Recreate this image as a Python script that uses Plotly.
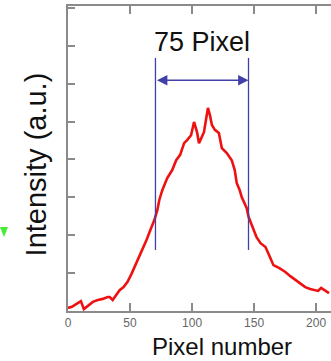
import plotly.graph_objects as go

# Profile data (pixel number vs intensity, a.u.)
pixel = [0, 3.2, 5.6, 8, 10.4, 12.8, 16, 20, 24, 28, 32, 33.6, 36, 39.2, 41.6, 44.8, 48,
         51.2, 55.2, 59.2, 63.2, 66.4, 69.6, 72, 73.6, 76, 80, 84, 87.2, 90.4, 93.6, 96,
         99.2, 101.6, 104, 105.6, 108, 109.6, 111.2, 112.8, 114.4, 116, 118.4, 121.6, 124,
         128, 132, 134.4, 136, 138.4, 140, 142.4, 144, 145.6, 148.8, 152, 155.2, 159.2,
         162.4, 165.6, 170.4, 175.2, 179.2, 183.2, 187.2, 191.2, 195.2, 199.2, 201.6, 204,
         207.2, 210.4]
intensity = [0.08, 0.11, 0.16, 0.21, 0.26, 0.05, 0.13, 0.24, 0.29, 0.32, 0.37, 0.37, 0.29,
             0.45, 0.55, 0.63, 0.77, 0.98, 1.27, 1.56, 1.87, 2.14, 2.40, 2.66, 2.93, 3.19,
             3.51, 3.72, 3.98, 4.12, 4.43, 4.51, 4.64, 4.99, 4.72, 4.43, 4.59, 4.72, 5.04,
             5.36, 5.17, 4.91, 4.78, 4.70, 4.30, 4.17, 3.98, 3.72, 3.38, 3.19, 3.01, 2.82,
             2.72, 2.48, 2.19, 1.95, 1.79, 1.69, 1.45, 1.21, 1.13, 1.03, 0.92, 0.82, 0.71,
             0.63, 0.58, 0.55, 0.53, 0.61, 0.55, 0.47]

x_ticks = [0, 50, 100, 150, 200]
y_ticks = [0, 1, 2, 3, 4, 5, 6, 7, 8]
fwhm_left, fwhm_right = 70.5, 145.5
fwhm_label = "75 Pixel"

FONT = "Liberation Sans, Arial, sans-serif"
AX = "#8a8a8a"
BLUE = "#4040a8"

fig = go.Figure()
fig.add_trace(go.Scatter(x=pixel, y=intensity, mode="lines",
                         line=dict(color="#ee1111", width=2.6), showlegend=False,
                         hoverinfo="skip"))
# FWHM markers
for xv in (fwhm_left, fwhm_right):
    fig.add_trace(go.Scatter(x=[xv, xv], y=[1.61, 6.68], mode="lines",
                             line=dict(color=BLUE, width=1.3), showlegend=False,
                             hoverinfo="skip"))

fig.add_annotation(x=fwhm_right, y=6.09, ax=fwhm_left, ay=6.09, xref="x", yref="y",
                   axref="x", ayref="y", text="", showarrow=True, arrowhead=2,
                   arrowside="end+start", arrowsize=1.3, arrowwidth=1.6, arrowcolor=BLUE,
                   standoff=0, startstandoff=0)
fig.add_annotation(x=(fwhm_left + fwhm_right) / 2, y=7.1, xref="x", yref="y",
                   text=fwhm_label, showarrow=False, xanchor="center", yanchor="middle",
                   font=dict(family=FONT, size=27, color="#111111"))
fig.add_annotation(x=0.585, y=-0.115, xref="paper", yref="paper", text="Pixel number",
                   showarrow=False, xanchor="center", yanchor="middle",
                   font=dict(family=FONT, size=24, color="#111111"))
fig.add_annotation(x=-0.12, y=0.482, xref="paper", yref="paper", text="Intensity (a.u.)",
                   textangle=-90, showarrow=False, xanchor="center", yanchor="middle",
                   font=dict(family=FONT, size=29, color="#111111"))
# small green triangle mark at left edge
fig.add_shape(type="path", xref="paper", yref="paper",
              path="M -0.2586 0.2754 L -0.2281 0.2754 L -0.2433 0.2426 Z",
              fillcolor="#44ee33", line=dict(width=0))

fig.update_layout(
    width=331, height=361,
    margin=dict(l=68, r=0, t=6, b=50),
    paper_bgcolor="white", plot_bgcolor="white",
    xaxis=dict(range=[0, 212], tickvals=x_ticks, ticks="inside", ticklen=8,
               tickwidth=1.5, tickcolor=AX, showline=True, linecolor=AX, linewidth=1.6,
               mirror="ticks", showgrid=False, zeroline=False,
               tickfont=dict(family=FONT, size=12, color="#666666")),
    yaxis=dict(range=[0, 8.05], tickvals=y_ticks, ticks="inside", ticklen=7,
               tickwidth=1.5, tickcolor=AX, showline=True, linecolor=AX, linewidth=1.6,
               showticklabels=False, showgrid=False, zeroline=False),
    yaxis2=dict(range=[0, 8.05], tickvals=y_ticks, overlaying="y", side="right",
                ticks="inside", ticklen=4, tickwidth=1, tickcolor="#dddddd",
                showline=False, showticklabels=False, showgrid=False, zeroline=False),
)

fig.write_html("out.html")
